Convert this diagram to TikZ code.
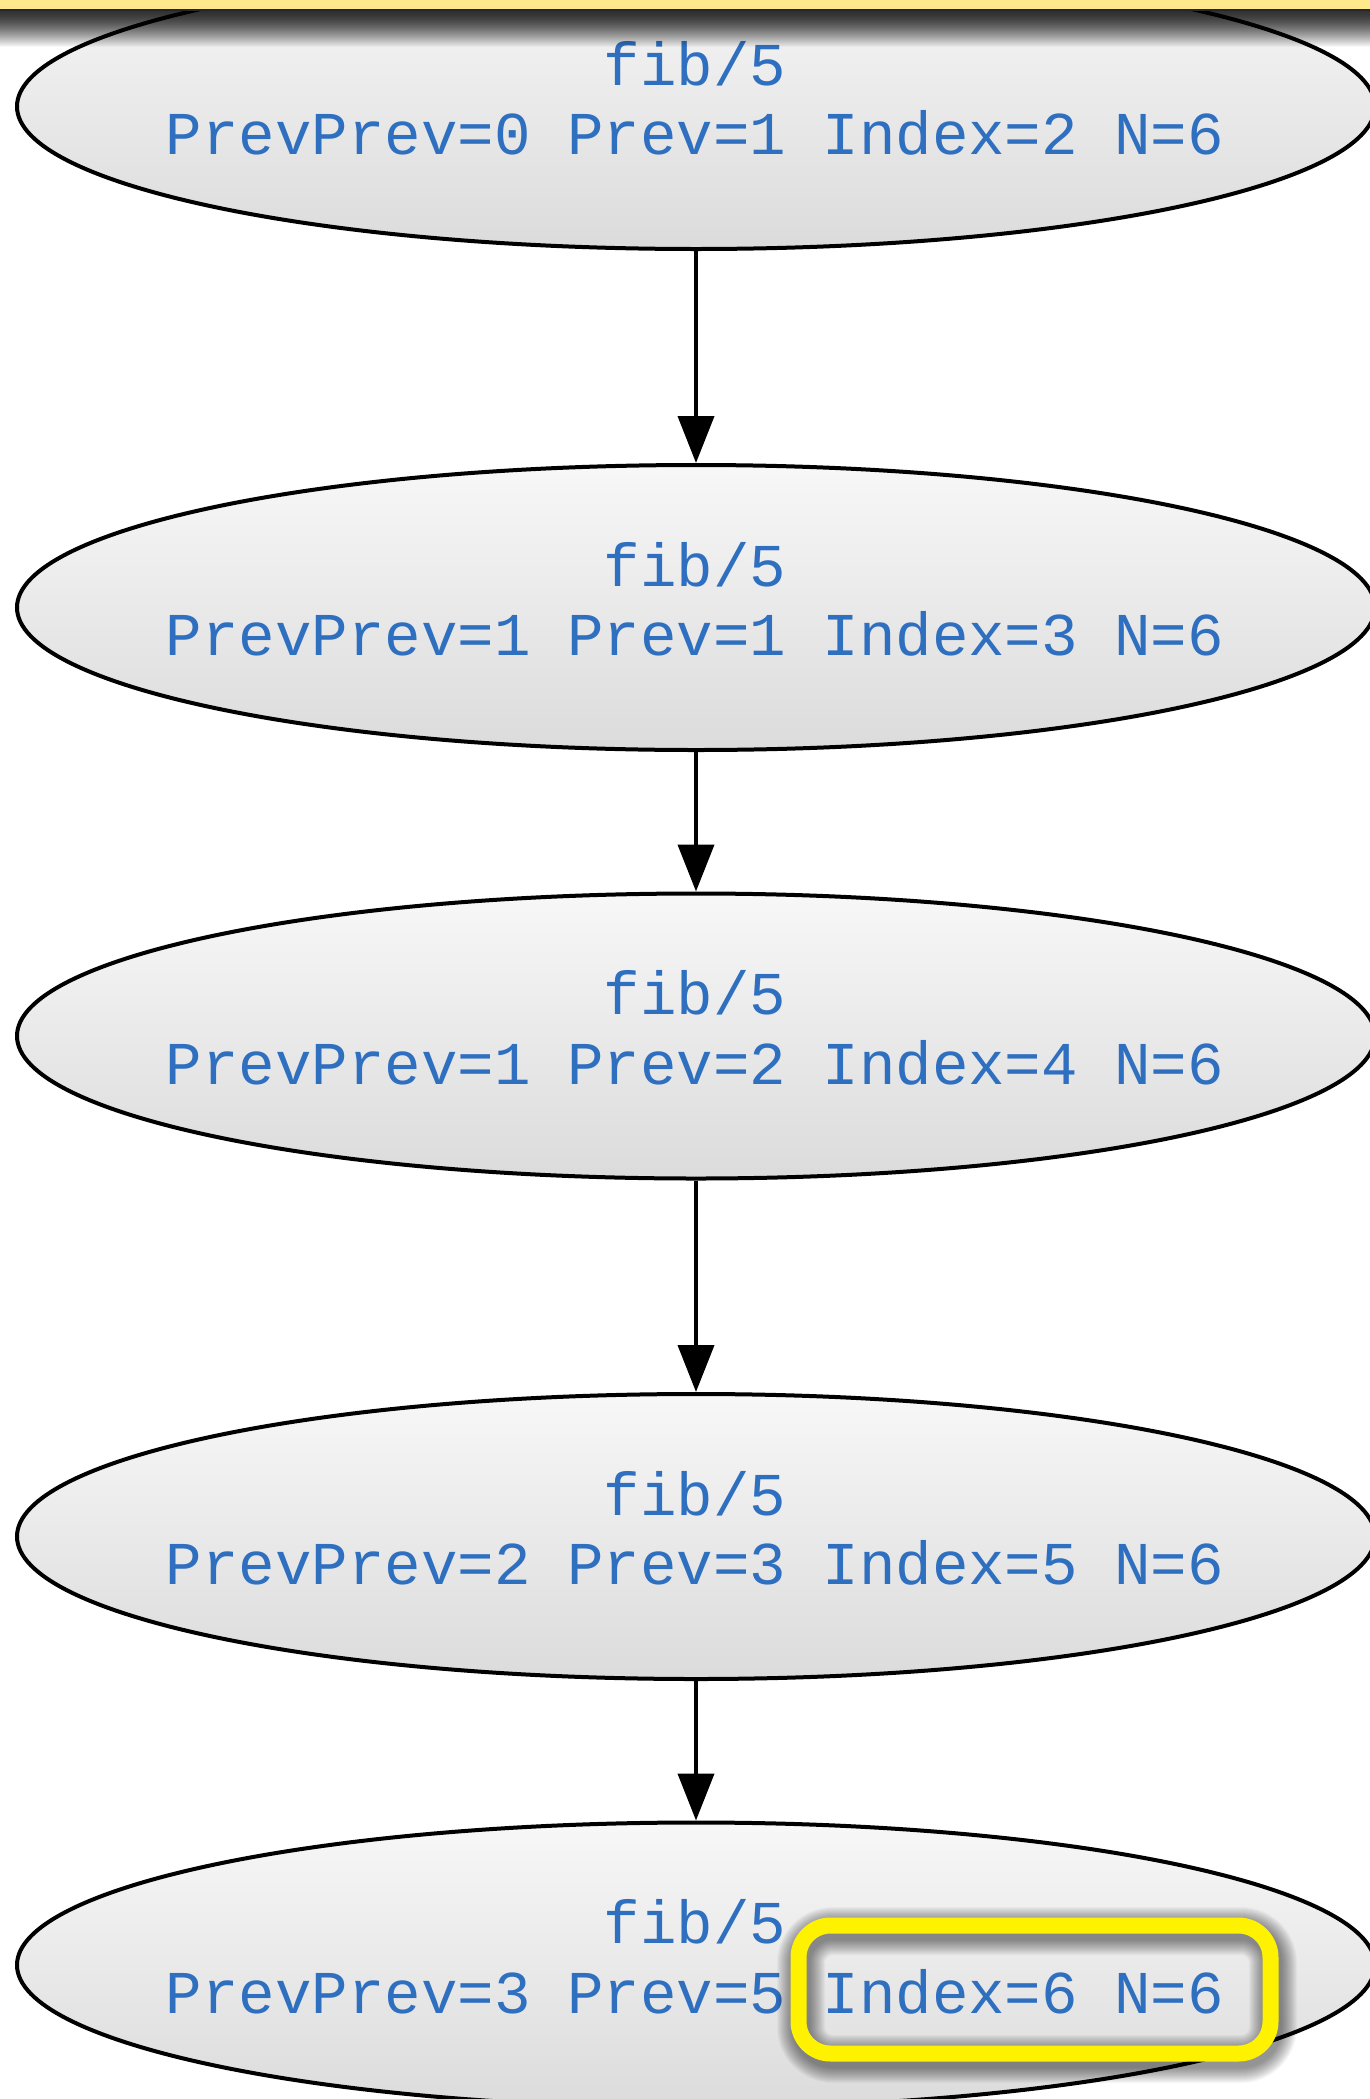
\documentclass[tikz,border=0pt]{standalone}
\usepackage{fontspec}
\newfontfamily\monof{Liberation Mono}
\usetikzlibrary{arrows.meta,shapes.geometric}
\definecolor{txtblue}{RGB}{47,111,192}
\definecolor{baryellow}{RGB}{255,233,140}
\definecolor{hlyellow}{RGB}{255,242,0}
\begin{document}
\begin{tikzpicture}[x=0.5pt,y=-0.5pt,
  state/.style={ellipse, draw=black, line width=2pt, minimum width=679pt, minimum height=142.5pt,
    inner sep=0pt, top color=white!97!black, bottom color=white!86!black},
  lbl/.style={text=txtblue, font=\monof\fontsize{30.4}{35}\selectfont, anchor=base, inner sep=0pt},
  flow/.style={-{Triangle[width=18pt,length=23.5pt]}, line width=2pt},
  hlbox/.style={rectangle, rounded corners=16pt, minimum width=236pt, minimum height=64pt, inner sep=0pt}]
\useasboundingbox (0,0) rectangle (1370,2099);
\clip (0,0) rectangle (1370,2099);
\fill[white] (0,0) rectangle (1370,2099);
% states
\node[state] (n1) at (696,106.5) {};
\node[state] (n2) at (696,607.5) {};
\node[state] (n3) at (696,1036) {};
\node[state] (n4) at (696,1536.5) {};
\node[state] (n5) at (696,1965) {};
% labels
\node[lbl] (n1a) at (695,85) {fib/5};
\node[lbl] (n1b) at (695,154.5) {PrevPrev=0 Prev=1 Index=2 N=6};
\node[lbl] (n2a) at (695,586) {fib/5};
\node[lbl] (n2b) at (695,655.5) {PrevPrev=1 Prev=1 Index=3 N=6};
\node[lbl] (n3a) at (695,1014.5) {fib/5};
\node[lbl] (n3b) at (695,1084) {PrevPrev=1 Prev=2 Index=4 N=6};
\node[lbl] (n4a) at (695,1515) {fib/5};
\node[lbl] (n4b) at (695,1584.5) {PrevPrev=2 Prev=3 Index=5 N=6};
\node[lbl] (n5a) at (695,1943.5) {fib/5};
\node[lbl] (n5b) at (695,2013) {PrevPrev=3 Prev=5 Index=6 N=6};
% connectors
\draw[flow] (n1) -- (n2);
\draw[flow] (n2) -- (n3);
\draw[flow] (n3) -- (n4);
\draw[flow] (n4) -- (n5);
% highlight with soft shadow
\foreach \w in {24,23,...,9} {
  \node[hlbox, draw=black, draw opacity=0.03, line width=\w pt] at (1037,1995) {};
}
\node[hlbox, draw=hlyellow, line width=8pt] (hl) at (1034.5,1989.5) {};
% top bar with shadow
\foreach \i in {0,...,35} {
  \pgfmathsetmacro{\op}{0.8*(1-(\i/36)^1.5)}
  \fill[black, opacity=\op] (0,11+\i) rectangle (1370,12+\i);
}
\fill[baryellow] (0,0) rectangle (1370,9);
\fill[black!85] (0,9) rectangle (1370,11);
\end{tikzpicture}
\end{document}
